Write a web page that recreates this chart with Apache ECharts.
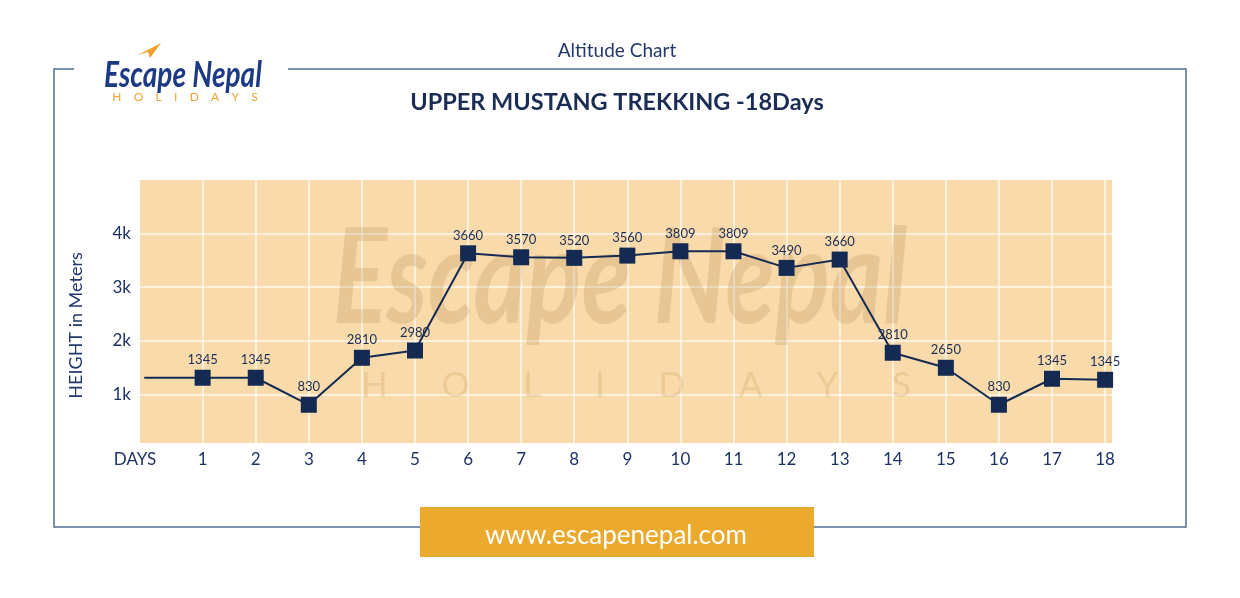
<!DOCTYPE html>
<html><head><meta charset="utf-8">
<script src="https://cdn.jsdelivr.net/npm/echarts@6/dist/echarts.min.js"></script>
<style>html,body{margin:0;padding:0;background:#fff}#c{width:1240px;height:598px}</style>
</head><body><div id="c"></div>
<script>
const days = [1,2,3,4,5,6,7,8,9,10,11,12,13,14,15,16,17,18];
// heights where the markers sit in the picture
const plottedHeights = [1312,1312,808,1684,1820,3633,3559,3548,3590,3671,3671,3361,3516,1778,1498,808,1293,1274];
// altitude figures printed above the markers
const altitudeLabels = [1345,1345,830,2810,2980,3660,3570,3520,3560,3809,3809,3490,3660,2810,2650,830,1345,1345];
const leadIn = [-0.1, 1312];
const tailOut = [18.3, 1274];
const xLabelValues = [0,1,2,3,4,5,6,7,8,9,10,11,12,13,14,15,16,17,18];
const yTickValues = [1000,2000,3000,4000];

const NAVY = '#142a52';
const FONT = 'Lato';

const seriesData = [{value: leadIn, symbol: 'none', label: {show: false}}];
days.forEach((d, i) => seriesData.push({value: [d, plottedHeights[i]], name: String(altitudeLabels[i])}));
seriesData.push({value: tailOut, symbol: 'none', label: {show: false}});

const chart = echarts.init(document.getElementById('c'));
chart.setOption({
  animation: false,
  backgroundColor: '#ffffff',
  grid: {left: 140, right: 128, top: 180, bottom: 155, show: true, backgroundColor: '#f9dbab', borderWidth: 0},
  xAxis: {
    type: 'value', min: -0.18, max: 18.13,
    axisLine: {show: false},
    axisTick: {show: false, customValues: days},
    splitLine: {show: true, lineStyle: {color: 'rgba(255,255,255,0.6)', width: 2}},
    axisLabel: {customValues: xLabelValues, formatter: v => v === 0 ? '{d|DAYS}' : String(v),
      color: '#1c3366', fontFamily: FONT, fontSize: 17, margin: 8,
      rich: {d: {color: '#1c3366', fontFamily: FONT, fontSize: 17, padding: [0, 29, 0, 0]}}}
  },
  yAxis: {
    type: 'value', min: 95, max: 5000,
    name: 'HEIGHT in Meters', nameLocation: 'middle', nameGap: 55,
    nameTextStyle: {color: '#22386c', fontFamily: FONT, fontSize: 18, padding: [0, 28, 0, 0]},
    axisLine: {show: false},
    axisTick: {show: false, customValues: yTickValues},
    splitLine: {show: true, lineStyle: {color: 'rgba(255,255,255,0.6)', width: 2}},
    axisLabel: {customValues: yTickValues, formatter: v => (v / 1000) + 'k',
      color: '#1c3366', fontFamily: FONT, fontSize: 17, margin: 9}
  },
  graphic: [
    // frame
    {type: 'polyline', shape: {points: [[74,69],[54,69],[54,527],[1186,527],[1186,69],[288,69]]},
      style: {stroke: '#4f6f95', lineWidth: 1.5, fill: null}, z: 0},
    // header
    {type: 'text', x: 617, y: 51, style: {text: 'Altitude Chart', fill: '#23386b', font: '19px Lato', align: 'center', verticalAlign: 'middle'}},
    {type: 'text', x: 617, y: 102, style: {text: 'UPPER MUSTANG TREKKING -18Days', fill: '#1b2d55', font: 'bold 23.5px Lato', align: 'center', verticalAlign: 'middle'}},
    // logo
    {type: 'polygon', shape: {points: [[138,55],[161,43],[150,58],[148,52]]}, style: {fill: '#f0a12c'}},
    {type: 'text', x: 183, y: 75, scaleY: 1.3, style: {text: 'Escape Nepal', fill: '#1d3a84', font: 'italic bold 28px Lato', align: 'center', verticalAlign: 'middle'}},
    {type: 'text', x: 185, y: 97, style: {text: 'H    O    L    I    D    A    Y    S', fill: '#eea436', font: '12px Lato', align: 'center', verticalAlign: 'middle'}},
    // watermark
    {type: 'text', x: 620, y: 280, z: 1, scaleY: 1.3, style: {text: 'Escape Nepal', fill: 'rgba(175,125,70,0.22)', font: 'italic bold 102px Lato', align: 'center', verticalAlign: 'middle'}},
    {type: 'text', x: 636, y: 386, z: 1, style: {text: 'H      O      L      I      D      A      Y      S', fill: 'rgba(210,160,95,0.3)', font: '35px Lato', align: 'center', verticalAlign: 'middle'}},
    // footer
    {type: 'rect', shape: {x: 420, y: 507, width: 394, height: 50}, style: {fill: '#eba92d'}, z: 2},
    {type: 'text', x: 616, y: 536, z: 3, style: {text: 'www.escapenepal.com', fill: '#ffffff', font: '26px Lato', align: 'center', verticalAlign: 'middle'}}
  ],
  series: [{
    type: 'line', data: seriesData, clip: false, z: 5,
    symbol: 'rect', symbolSize: 16,
    lineStyle: {color: NAVY, width: 2},
    itemStyle: {color: NAVY},
    label: {show: true, position: 'top', distance: 3, formatter: p => p.name,
      color: '#1b2d55', fontFamily: FONT, fontSize: 13}
  }]
});
</script></body></html>
